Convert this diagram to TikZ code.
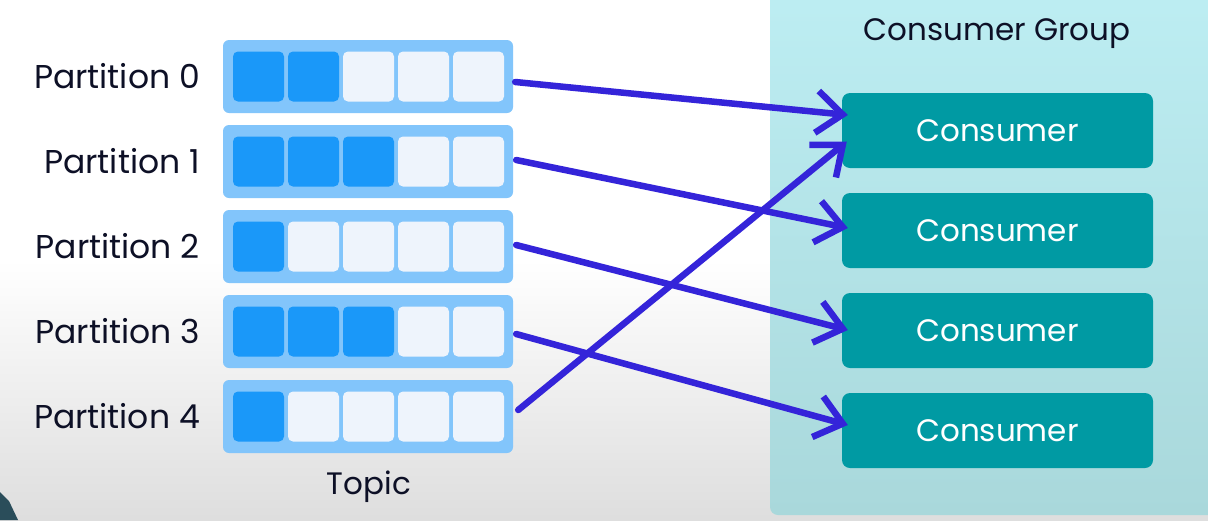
\documentclass[tikz,border=0pt]{standalone}
\usepackage{fontspec}
\setmainfont{Poppins}
\usetikzlibrary{arrows.meta,calc}
\definecolor{outerblue}{HTML}{82C5FB}
\definecolor{fullcell}{HTML}{1A98F9}
\definecolor{emptycell}{HTML}{EEF4FC}
\definecolor{panelcol}{HTML}{BDEEF3}
\definecolor{panelbot}{HTML}{A9D8DB}
\definecolor{consteal}{HTML}{009AA3}
\definecolor{inkcol}{HTML}{3424D9}
\definecolor{txtcol}{HTML}{0D1026}
\definecolor{wedgecol}{HTML}{2A4D5A}
\tikzset{
  rowbox/.style={rectangle, rounded corners=6pt, fill=outerblue, minimum width=290pt, minimum height=73pt, inner sep=0pt},
  fullbox/.style={rectangle, rounded corners=5pt, fill=fullcell, minimum width=51pt, minimum height=50pt, inner sep=0pt},
  emptybox/.style={rectangle, rounded corners=5pt, fill=emptycell, minimum width=51pt, minimum height=50pt, inner sep=0pt},
  plabel/.style={anchor=east, inner sep=0pt, text=txtcol, font=\fontsize{33}{36}\selectfont},
  dlabel/.style={inner sep=0pt, text=txtcol, font=\fontsize{31}{36}\selectfont},
  consbox/.style={rectangle, rounded corners=8pt, fill=consteal, minimum width=311pt, minimum height=75pt, inner sep=0pt, text=white, font=\fontsize{31}{36}\selectfont},
  assign/.style={draw=inkcol, line width=6.5pt, line cap=round, line join=round, -{Straight Barb[length=26pt,width=42pt]}}
}
\begin{document}
\begin{tikzpicture}[x=1pt,y=-1pt]
\useasboundingbox (0,0) rectangle (1208,520);
% background
\fill[white] (0,0) rectangle (1208,260);
\shade[top color=white, bottom color=black!13] (0,260) rectangle (1208,520);
\fill[wedgecol] (0,492) -- (9,501) -- (18,520) -- (0,520) -- cycle;
% consumer group panel
\shade[top color=panelcol, bottom color=panelbot, rounded corners=8pt] (770,-20) rectangle (1228,515);
\node[dlabel] (cg) at (997,34) {Consumer Group};
% partitions
\foreach \i/\n in {0/2,1/3,2/1,3/3,4/1}{
  \pgfmathsetmacro{\yc}{76.5+85*\i}
  \node[rowbox] (p\i) at (368,\yc) {};
  \foreach \j in {0,...,4}{
    \pgfmathsetmacro{\xc}{258.5+55*\j}
    \ifnum\j<\n
      \node[fullbox] (c\i\j) at (\xc,\yc) {};
    \else
      \node[emptybox] (c\i\j) at (\xc,\yc) {};
    \fi
  }
  \node[plabel] (l\i) at (200,\yc) {Partition \i};
}
\node[dlabel] (topic) at (369,487) {Topic};
% consumers
\foreach \k in {1,...,4}{
  \pgfmathsetmacro{\yc}{130.5+100*(\k-1)}
  \node[consbox] (k\k) at (997.5,\yc) {Consumer};
}
% assignments
\draw[assign] ([xshift=2pt,yshift=-5.5pt]p0.east) -- ([xshift=6pt,yshift=15.5pt]k1.west);
\draw[assign] ([xshift=3pt,yshift=1.5pt]p1.east) -- ([xshift=6pt,yshift=2.5pt]k2.west);
\draw[assign] ([xshift=3pt,yshift=1.5pt]p2.east) -- ([xshift=6pt,yshift=0.5pt]k3.west);
\draw[assign] ([xshift=3pt,yshift=-2.5pt]p3.east) -- ([xshift=6pt,yshift=5.5pt]k4.west);
\draw[assign] ([xshift=5pt,yshift=6.5pt]p4.east) -- ([xshift=5pt,yshift=-11pt]k1.west);
\end{tikzpicture}
\end{document}
